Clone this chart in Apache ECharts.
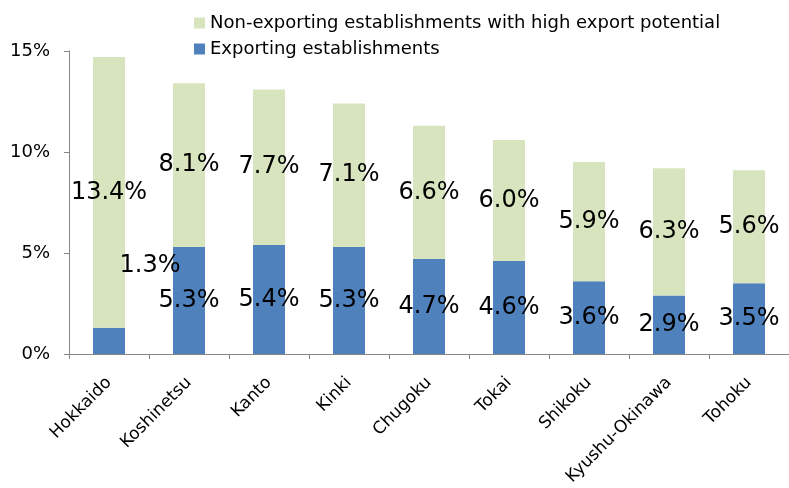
<!DOCTYPE html>
<html>
<head>
<meta charset="utf-8">
<script src="https://cdn.jsdelivr.net/npm/echarts@6/dist/echarts.min.js"></script>
<style>
    html, body { margin: 0; padding: 0; background: #fff; }
    #chart { width: 789px; height: 488px; }
</style>
</head>
<body>
<div id="chart"></div>
<script>
    const regions = ['Hokkaido', 'Koshinetsu', 'Kanto', 'Kinki', 'Chugoku', 'Tokai', 'Shikoku', 'Kyushu-Okinawa', 'Tohoku']
    // 輸出事業所 / 輸出潜在性の高い非輸出事業所 (%)
    const exporting = [1.3, 5.3, 5.4, 5.3, 4.7, 4.6, 3.6, 2.9, 3.5]
    const nonExporting = [13.4, 8.1, 7.7, 7.1, 6.6, 6.0, 5.9, 6.3, 5.6]
    const yTicks = [0, 5, 10, 15]

    const FONT = 'DejaVu Sans'
    const labelStyle = {
        show: true,
        position: 'inside',
        color: '#000',
        fontFamily: FONT,
        fontSize: 24,
        formatter: p => p.value.toFixed(1) + '%'
    }

    // Hokkaido's exporting label was dragged out of its bar in the original
    const exportingData = exporting.map((v, i) => i === 0
        ? {value: v, label: {offset: [41, -75]}}
        : v)

    const chart = echarts.init(document.getElementById('chart'))
    chart.setOption({
        animation: false,
        textStyle: {fontFamily: FONT},
        legend: {
            orient: 'vertical',
            left: 194,
            top: 14,
            padding: 0,
            itemWidth: 11,
            itemHeight: 11,
            itemGap: 8,
            icon: 'rect',
            textStyle: {fontFamily: FONT, fontSize: 18, color: '#000', lineHeight: 18, padding: [0, 0, 0, 0]},
            data: ['Non-exporting establishments with high export potential', 'Exporting establishments']
        },
        grid: {
            left: 69,
            right: -2,
            top: 51,
            bottom: 134,
            containLabel: false
        },
        xAxis: {
            type: 'category',
            data: regions,
            axisLine: {lineStyle: {color: '#868686', width: 1}},
            axisTick: {show: true, length: 5, lineStyle: {color: '#868686'}},
            axisLabel: {
                interval: 0,
                rotate: 45,
                margin: 26,
                color: '#000',
                fontFamily: FONT,
                fontSize: 17
            }
        },
        yAxis: {
            type: 'value',
            min: yTicks[0],
            max: yTicks[yTicks.length - 1],
            interval: yTicks[1] - yTicks[0],
            splitLine: {show: false},
            axisLine: {show: true, lineStyle: {color: '#868686', width: 1}},
            axisTick: {show: true, length: 5, lineStyle: {color: '#868686'}},
            axisLabel: {
                margin: 19,
                color: '#000',
                fontFamily: FONT,
                fontSize: 18,
                formatter: '{value}%'
            }
        },
        series: [
            {
                name: 'Exporting establishments',
                type: 'bar',
                stack: 'total',
                barWidth: '40%',
                itemStyle: {color: '#4F81BD'},
                label: labelStyle,
                data: exportingData
            },
            {
                name: 'Non-exporting establishments with high export potential',
                type: 'bar',
                stack: 'total',
                barWidth: '40%',
                itemStyle: {color: '#D7E4BD'},
                label: labelStyle,
                data: nonExporting
            }
        ]
    })
</script>
</body>
</html>
